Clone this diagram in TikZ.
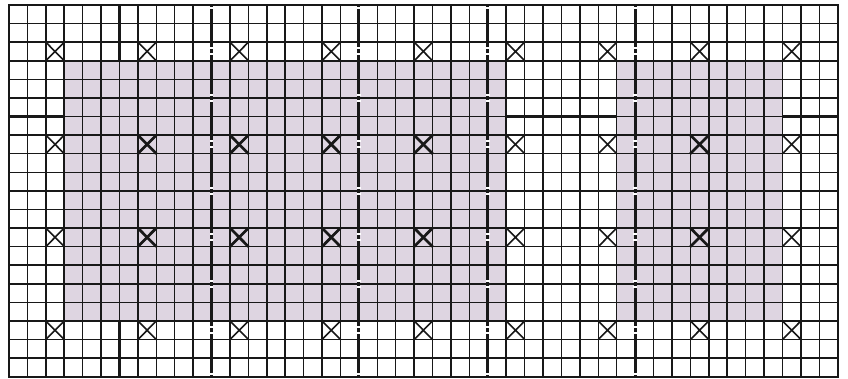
\documentclass[tikz,border=0pt]{standalone}
\definecolor{areafill}{RGB}{222,213,225}
\definecolor{ink}{RGB}{24,24,24}
\begin{document}
\begin{tikzpicture}[x=18.416pt,y=-18.585pt,
  gridline/.style={ink,line width=1.5pt},
  medline/.style={ink,line width=2.1pt},
  heavyline/.style={ink,line width=3pt},
  gapline/.style={white,line width=3.6pt,dash pattern=on 2pt off 4pt on 2pt off 38.46pt,dash phase=4pt},
  thinx/.style={ink,line width=1.6pt},
  boldx/.style={ink,line width=2.7pt}]
\useasboundingbox (-0.4887,-0.269) rectangle (45.558,20.07);
% medium-weight guide lines (visible outside the shaded areas)
\foreach \r in {6,14} \draw[medline] (0,\r) -- (45,\r);
\foreach \c in {6,39} \draw[medline] (\c,0) -- (\c,20);
% shaded areas
\fill[areafill] (3,3) rectangle (27,17);
\fill[areafill] (33,3) rectangle (42,17);
% grid
\foreach \c in {0,...,45} \draw[gridline] (\c,0) -- (\c,20);
\foreach \r in {0,...,20} \draw[gridline] (0,\r) -- (45,\r);
\draw[ink,line width=1.8pt] (0,0) rectangle (45,20);
% heavy dash-dot lines
\foreach \c in {11,19,26,34} {
  \draw[heavyline] (\c,0) -- (\c,20);
  \draw[gapline] (\c,0) -- (\c,20);
}
% crosses
\foreach \r in {2,7,12,17} \foreach \c in {2,7,...,42}
  \draw[thinx] (\c,\r) -- ++(1,1) (\c+1,\r) -- ++(-1,1);
\foreach \r in {7,12} \foreach \c in {7,12,17,22,37}
  \draw[boldx] (\c,\r) -- ++(1,1) (\c+1,\r) -- ++(-1,1);
\end{tikzpicture}
\end{document}
